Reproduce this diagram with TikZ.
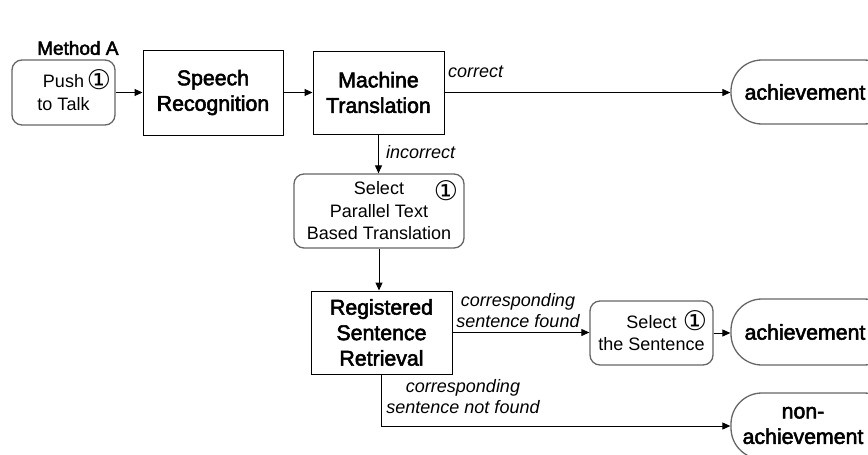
\documentclass[tikz,border=0pt]{standalone}
\usepackage{fontspec}
\setmainfont{Liberation Sans}
\newfontfamily\medfont[FakeBold=2.5]{Liberation Sans}
\newfontfamily\symfont{DejaVu Sans}
\usetikzlibrary{arrows.meta}
\begin{document}
\begin{tikzpicture}[x=1pt,y=-1pt,
  main/.style={draw=black, line width=1pt, font=\medfont\fontsize{21.3}{25.5}\selectfont, align=center, inner sep=0pt},
  soft/.style={draw=black!60, line width=1.3pt, rounded corners=10pt, font=\fontsize{18}{22.5}\selectfont, align=center, inner sep=0pt},
  term/.style={draw=black!60, line width=1.3pt, rounded corners=31pt, font=\medfont\fontsize{21.3}{25.5}\selectfont, inner sep=0pt, minimum width=164pt},
  lbl/.style={font=\fontsize{18}{21}\selectfont\itshape, align=center, inner sep=0pt},
  circ/.style={font=\symfont\fontsize{27}{27}\selectfont, inner sep=0pt},
  conn/.style={line width=1pt, -{Triangle[length=8pt,width=7pt]}}]
\useasboundingbox (0,0) rectangle (868,455);
\fill[white] (0,0) rectangle (868,455);

\node[anchor=west, font=\medfont\fontsize{19}{19}\selectfont, inner sep=0pt] (title) at (37,48) {Method A};

\node[soft, minimum width=103pt, minimum height=65pt] (push) at (63.5,92.5) {Push\\to Talk};
\node[circ] (c1) at (99,80) {①};
\node[main, minimum width=140pt, minimum height=85pt] (sr) at (213,92.5) {Speech\\Recognition};
\node[main, minimum width=131pt, minimum height=83pt] (mt) at (378.5,92.5) {Machine\\Translation};
\node[term, minimum height=64pt] (ach1) at (813,92) {achievement\kern16pt};

\node[soft, minimum width=170pt, minimum height=74pt] (sp) at (379,211) {Select\\Parallel Text\\Based Translation};
\node[circ] (c2) at (446,191) {①};

\node[main, minimum width=141pt, minimum height=83pt] (rsr) at (381.5,332.5) {Registered\\Sentence\\Retrieval};
\node[soft, minimum width=123pt, minimum height=64pt] (ss) at (651.5,333) {Select\\the Sentence};
\node[circ] (c3) at (695,321) {①};
\node[term, minimum height=66pt] (ach2) at (813,332) {achievement\kern16pt};
\node[term, minimum height=66pt] (nonach) at (813,426) {\renewcommand{\arraystretch}{1}\begin{tabular}{@{}c@{}}non-\\achievement\end{tabular}\kern20pt};

\draw[conn] (push) -- (sr);
\draw[conn] (sr) -- (mt);
\draw[conn] (mt.east) -- (mt.east -| ach1.west);
\draw[conn] (mt.south) -- (mt.south |- sp.north);
\draw[conn] (sp.south) -- (sp.south |- rsr.north);
\draw[conn] (rsr.east) -- (rsr.east -| ss.west);
\draw[conn] (ss.east) -- (ss.east -| ach2.west);
\draw[conn] (rsr.south) |- (nonach.west);

\node[lbl, anchor=west] (lcorrect) at (448,72) {correct};
\node[lbl, anchor=west] (lincorrect) at (386,152) {incorrect};
\node[lbl] (lfound) at (518,311) {corresponding\\sentence found};
\node[lbl] (lnotfound) at (463,397) {corresponding\\sentence not found};
\end{tikzpicture}
\end{document}
